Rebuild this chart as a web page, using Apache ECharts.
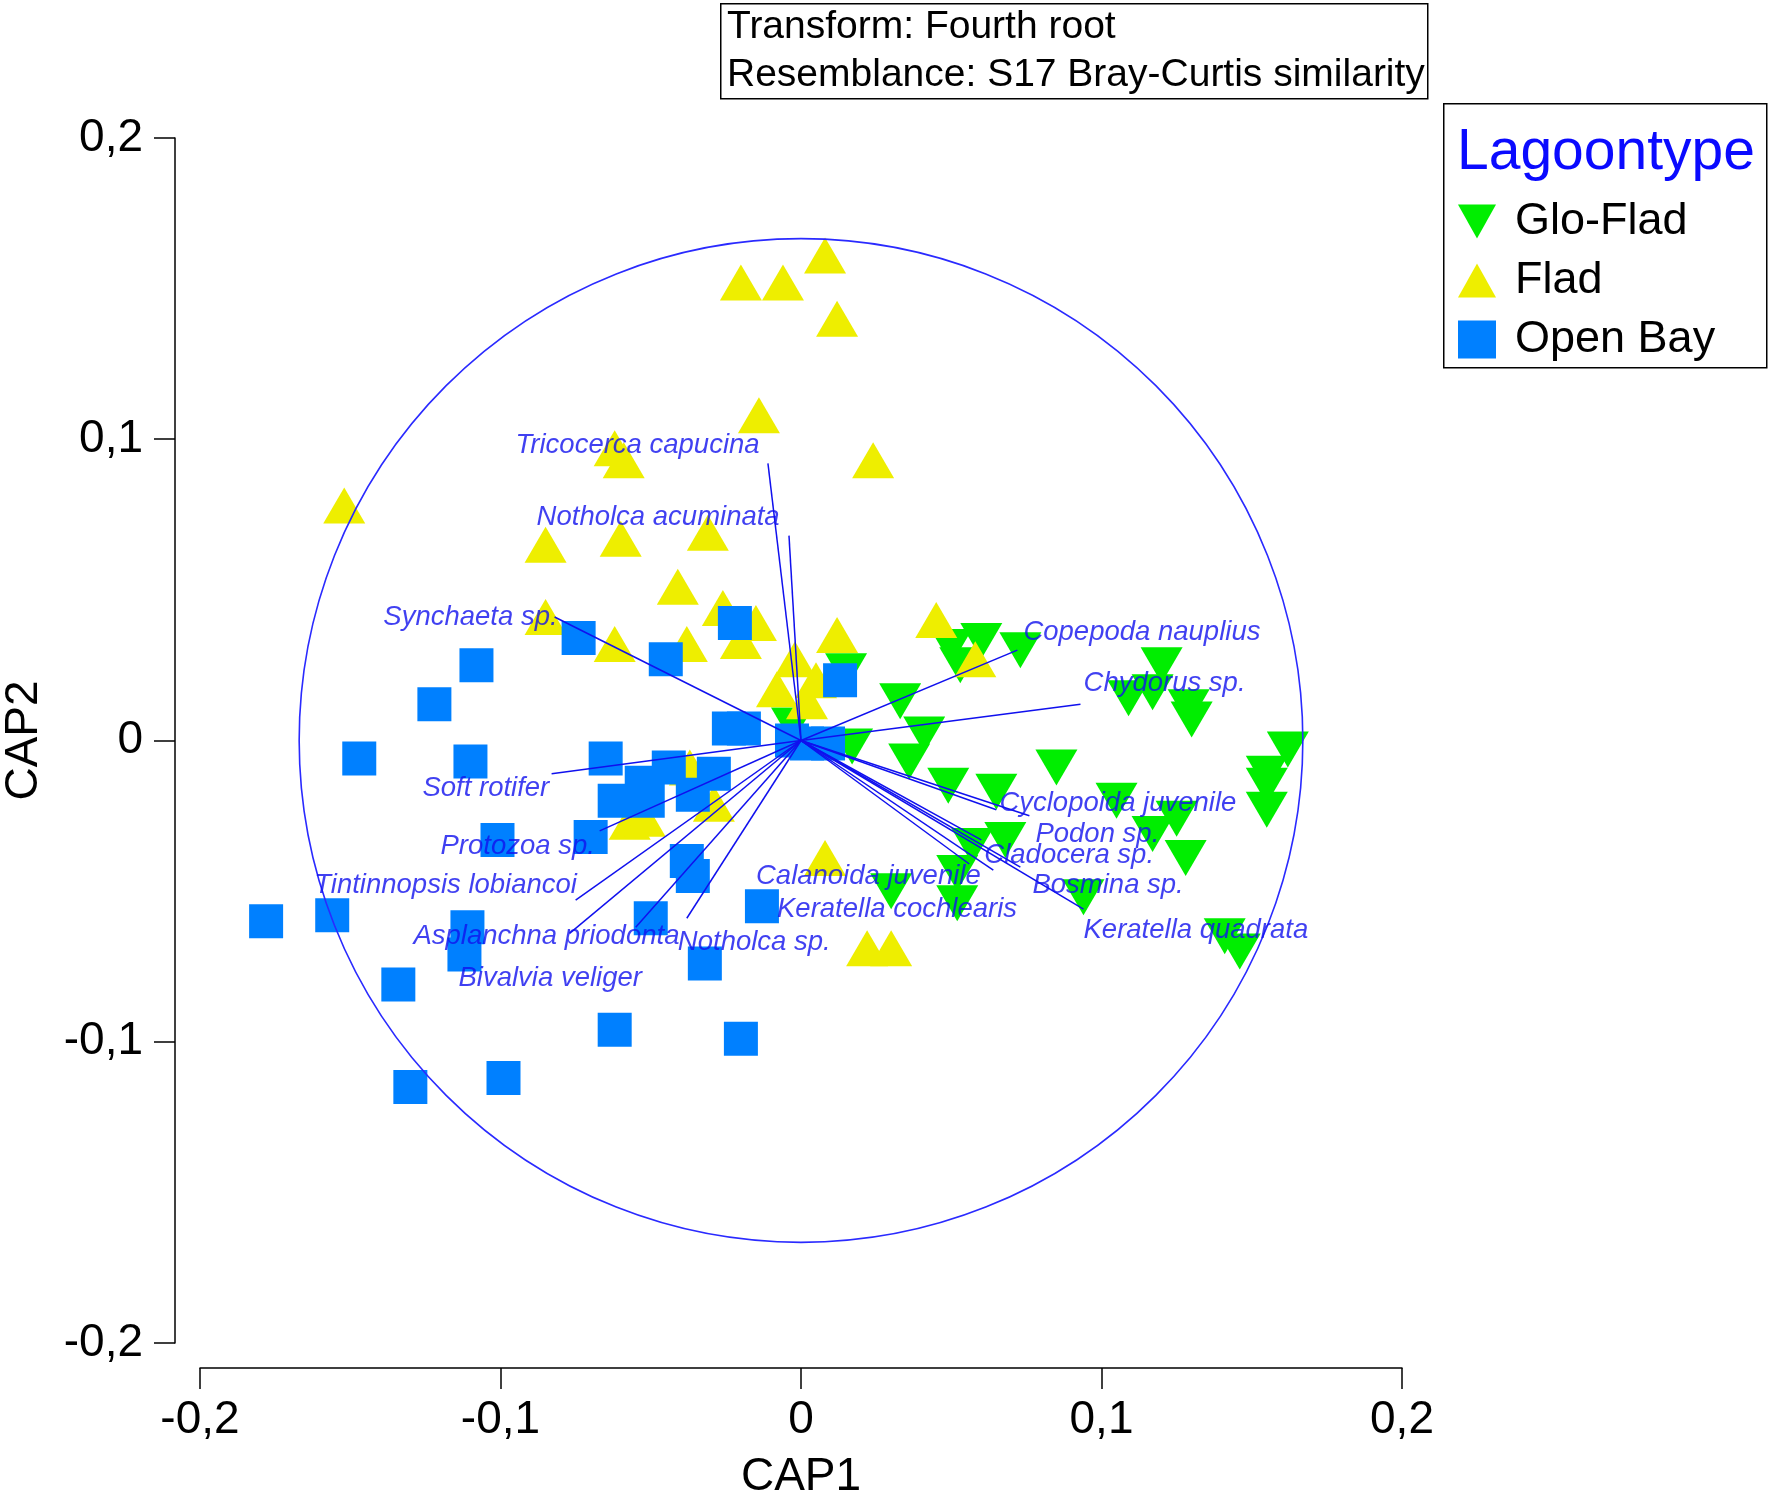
<!DOCTYPE html>
<html>
<head>
<meta charset="utf-8">
<title>CAP ordination</title>
<script src="https://cdn.jsdelivr.net/npm/echarts@6/dist/echarts.min.js"></script>
<style>
  html, body { margin: 0; padding: 0; background: #fff; }
  #chart { width: 1772px; height: 1499px; }
</style>
</head>
<body>
<div id="chart"></div>
<script>
// sample scores on CAP1 / CAP2, one array per lagoon type
var gloFlad = [
    [0.050, 0.031], [0.053, 0.025], [0.060, 0.033], [0.073, 0.030], [0.033, 0.013],
    [0.041, 0.002], [0.036, -0.007], [0.017, -0.002], [0.015, 0.023], [-0.003, 0.005],
    [0.049, -0.015], [0.065, -0.017], [0.085, -0.009], [0.105, -0.020], [0.125, -0.026],
    [0.117, -0.031], [0.128, -0.039], [0.068, -0.033], [0.057, -0.035], [0.052, -0.044],
    [0.030, -0.050], [0.052, -0.054], [0.094, -0.052], [0.120, 0.025], [0.117, 0.016],
    [0.109, 0.014], [0.129, 0.011], [0.130, 0.007], [0.162, -0.003], [0.155, -0.011],
    [0.155, -0.015], [0.155, -0.023], [0.141, -0.065], [0.146, -0.070]
];
var flad = [
    [0.008, 0.161], [-0.020, 0.152], [-0.006, 0.152], [0.012, 0.140], [-0.014, 0.108],
    [0.024, 0.093], [-0.062, 0.097], [-0.059, 0.093], [-0.152, 0.078], [-0.085, 0.065],
    [-0.060, 0.067], [-0.031, 0.069], [-0.041, 0.051], [-0.085, 0.041], [-0.062, 0.032],
    [-0.038, 0.032], [-0.026, 0.044], [-0.015, 0.039], [-0.020, 0.033], [0.012, 0.035],
    [-0.002, 0.027], [-0.008, 0.017], [0.005, 0.020], [0.002, 0.013], [0.045, 0.040],
    [0.058, 0.027], [-0.037, -0.009], [-0.029, -0.021], [-0.057, -0.027], [-0.052, -0.026],
    [0.008, -0.039], [0.022, -0.069], [0.030, -0.069]
];
var openBay = [
    [-0.178, -0.060], [-0.156, -0.058], [-0.134, -0.081], [-0.130, -0.115], [-0.099, -0.112],
    [-0.062, -0.096], [-0.020, -0.099], [-0.032, -0.074], [-0.050, -0.059], [-0.111, -0.062],
    [-0.112, -0.071], [-0.013, -0.055], [-0.038, -0.040], [-0.036, -0.045], [-0.101, -0.033],
    [-0.070, -0.032], [-0.147, -0.006], [-0.110, -0.007], [-0.122, 0.012], [-0.108, 0.025],
    [-0.074, 0.034], [-0.045, 0.027], [-0.022, 0.039], [0.013, 0.020], [-0.024, 0.004],
    [-0.019, 0.004], [-0.003, 0.000], [0.009, -0.001], [-0.065, -0.006], [-0.044, -0.009],
    [-0.053, -0.014], [-0.062, -0.020], [-0.029, -0.011], [-0.036, -0.018], [-0.051, -0.020],
    [0.002, -0.001]
];

// species vectors: name, end point, where the label starts
var species = ['Tricocerca capucina', 'Notholca acuminata', 'Synchaeta sp.', 'Copepoda nauplius',
    'Chydorus sp.', 'Soft rotifer', 'Protozoa sp.', 'Tintinnopsis lobiancoi', 'Asplanchna priodonta',
    'Bivalvia veliger', 'Notholca sp.', 'Calanoida juvenile', 'Keratella cochlearis',
    'Cyclopoida juvenile', 'Podon sp.', 'Cladocera sp.', 'Bosmina sp.', 'Keratella quadrata'];
var vecX = [-0.011, -0.004, -0.082, 0.072, 0.093, -0.083, -0.067, -0.075, -0.077,
    -0.055, -0.038, 0.056, 0.064, 0.065, 0.076, 0.060, 0.073, 0.094];
var vecY = [0.092, 0.068, 0.041, 0.030, 0.012, -0.011, -0.030, -0.053, -0.064,
    -0.062, -0.059, -0.041, -0.043, -0.023, -0.025, -0.033, -0.042, -0.056];
var labelX = [-0.095, -0.088, -0.139, 0.074, 0.094, -0.126, -0.120, -0.162, -0.129,
    -0.114, -0.041, -0.015, -0.008, 0.066, 0.078, 0.061, 0.077, 0.094];
var labelY = [0.098, 0.074, 0.041, 0.036, 0.019, -0.016, -0.035, -0.048, -0.065,
    -0.079, -0.067, -0.045, -0.056, -0.021, -0.031, -0.038, -0.048, -0.063];

var circleR = 0.167;
var axisTicks = [-0.2, -0.1, 0, 0.1, 0.2];

var FONT = 'Liberation Sans, Arial, sans-serif';
var BLUE = '#1010ee';

function tickText(v) {
    if (Math.abs(v) < 1e-9) return '0';
    return String(+v.toFixed(1)).replace('.', ',');
}

var vectorData = [];
var labelData = [];
for (var i = 0; i < species.length; i++) {
    vectorData.push([vecX[i], vecY[i], species[i]]);
    labelData.push([labelX[i], labelY[i], species[i]]);
}

var chart = echarts.init(document.getElementById('chart'));

var axisCommon = {
    type: 'value',
    min: axisTicks[0],
    max: axisTicks[axisTicks.length - 1],
    interval: 0.1,
    offset: 25,
    nameLocation: 'middle',
    nameTextStyle: { fontSize: 46, color: '#000', fontFamily: FONT },
    axisLine: { show: true, onZero: false, lineStyle: { color: '#000', width: 1.5 } },
    axisTick: { show: true, length: 21, lineStyle: { color: '#000', width: 1.5 } },
    axisLabel: { fontSize: 46, color: '#000', fontFamily: FONT, formatter: tickText },
    splitLine: { show: false }
};

var option = {
    animation: false,
    backgroundColor: '#fff',
    grid: { left: 200, top: 138, width: 1202, height: 1205, outerBoundsMode: 'none', containLabel: false },
    xAxis: Object.assign({}, axisCommon, {
        name: 'CAP1', nameGap: 86,
        axisLabel: Object.assign({}, axisCommon.axisLabel, { margin: 29 })
    }),
    yAxis: Object.assign({}, axisCommon, {
        name: 'CAP2', nameGap: 128,
        axisLabel: Object.assign({}, axisCommon.axisLabel, { margin: 32 })
    }),
    legend: {
        orient: 'vertical',
        left: 1453,
        top: 194,
        itemWidth: 38,
        itemHeight: 38,
        itemGap: 14,
        selectedMode: false,
        textStyle: { fontSize: 45, color: '#000', fontFamily: FONT, padding: [0, 0, 0, 14] },
        data: [
            { name: 'Glo-Flad', icon: 'path://M0,0 L20,0 L10,18 Z' },
            { name: 'Flad', icon: 'path://M10,0 L20,18 L0,18 Z' },
            { name: 'Open Bay', icon: 'rect' }
        ]
    },
    graphic: [
        {
            type: 'rect', left: 720, top: 3, z: 10,
            shape: { width: 707, height: 95 },
            style: { fill: '#fff', stroke: '#000', lineWidth: 1.5 }
        },
        {
            type: 'text', left: 727, top: 8, z: 11,
            style: { text: 'Transform: Fourth root', fontSize: 39, fontFamily: FONT, fill: '#000' }
        },
        {
            type: 'text', left: 727, top: 56, z: 11,
            style: { text: 'Resemblance: S17 Bray-Curtis similarity', fontSize: 39, fontFamily: FONT, fill: '#000' }
        },
        {
            type: 'rect', left: 1443, top: 103, z: 1,
            shape: { width: 323, height: 264 },
            style: { fill: '#fff', stroke: '#000', lineWidth: 1.5 }
        },
        {
            type: 'text', left: 1457, top: 125, z: 11,
            style: { text: 'Lagoontype', fontSize: 57, fontFamily: FONT, fill: '#0a0aff' }
        }
    ],
    series: [
        {
            name: 'Glo-Flad',
            type: 'scatter',
            symbol: 'triangle',
            symbolRotate: 180,
            symbolSize: [42, 36],
            itemStyle: { color: '#00ee00', opacity: 1 },
            data: gloFlad
        },
        {
            name: 'Flad',
            type: 'scatter',
            symbol: 'triangle',
            symbolSize: [42, 36],
            itemStyle: { color: '#eeee00', opacity: 1 },
            data: flad
        },
        {
            name: 'Open Bay',
            type: 'scatter',
            symbol: 'rect',
            symbolSize: 34,
            itemStyle: { color: '#0080ff', opacity: 1 },
            data: openBay
        },
        {
            type: 'custom',
            silent: true,
            z: 5,
            data: [[0, 0]],
            renderItem: function (params, api) {
                var c = api.coord([0, 0]);
                var e = api.coord([circleR, 0]);
                return {
                    type: 'circle',
                    shape: { cx: c[0], cy: c[1], r: e[0] - c[0] },
                    style: { fill: 'none', stroke: '#2a2aff', lineWidth: 1.6 }
                };
            }
        },
        {
            type: 'custom',
            silent: true,
            z: 6,
            data: vectorData,
            renderItem: function (params, api) {
                var c = api.coord([0, 0]);
                var p = api.coord([api.value(0), api.value(1)]);
                return {
                    type: 'line',
                    shape: { x1: c[0], y1: c[1], x2: p[0], y2: p[1] },
                    style: { stroke: BLUE, lineWidth: 1.5 }
                };
            }
        },
        {
            type: 'scatter',
            silent: true,
            z: 7,
            symbolSize: 0.1,
            itemStyle: { color: 'rgba(0,0,0,0)' },
            label: {
                show: true,
                position: 'right',
                distance: 0,
                formatter: function (p) { return p.value[2]; },
                fontSize: 27.5,
                fontStyle: 'italic',
                fontFamily: FONT,
                color: BLUE
            },
            data: labelData
        }
    ]
};

chart.setOption(option);
</script>
</body>
</html>
